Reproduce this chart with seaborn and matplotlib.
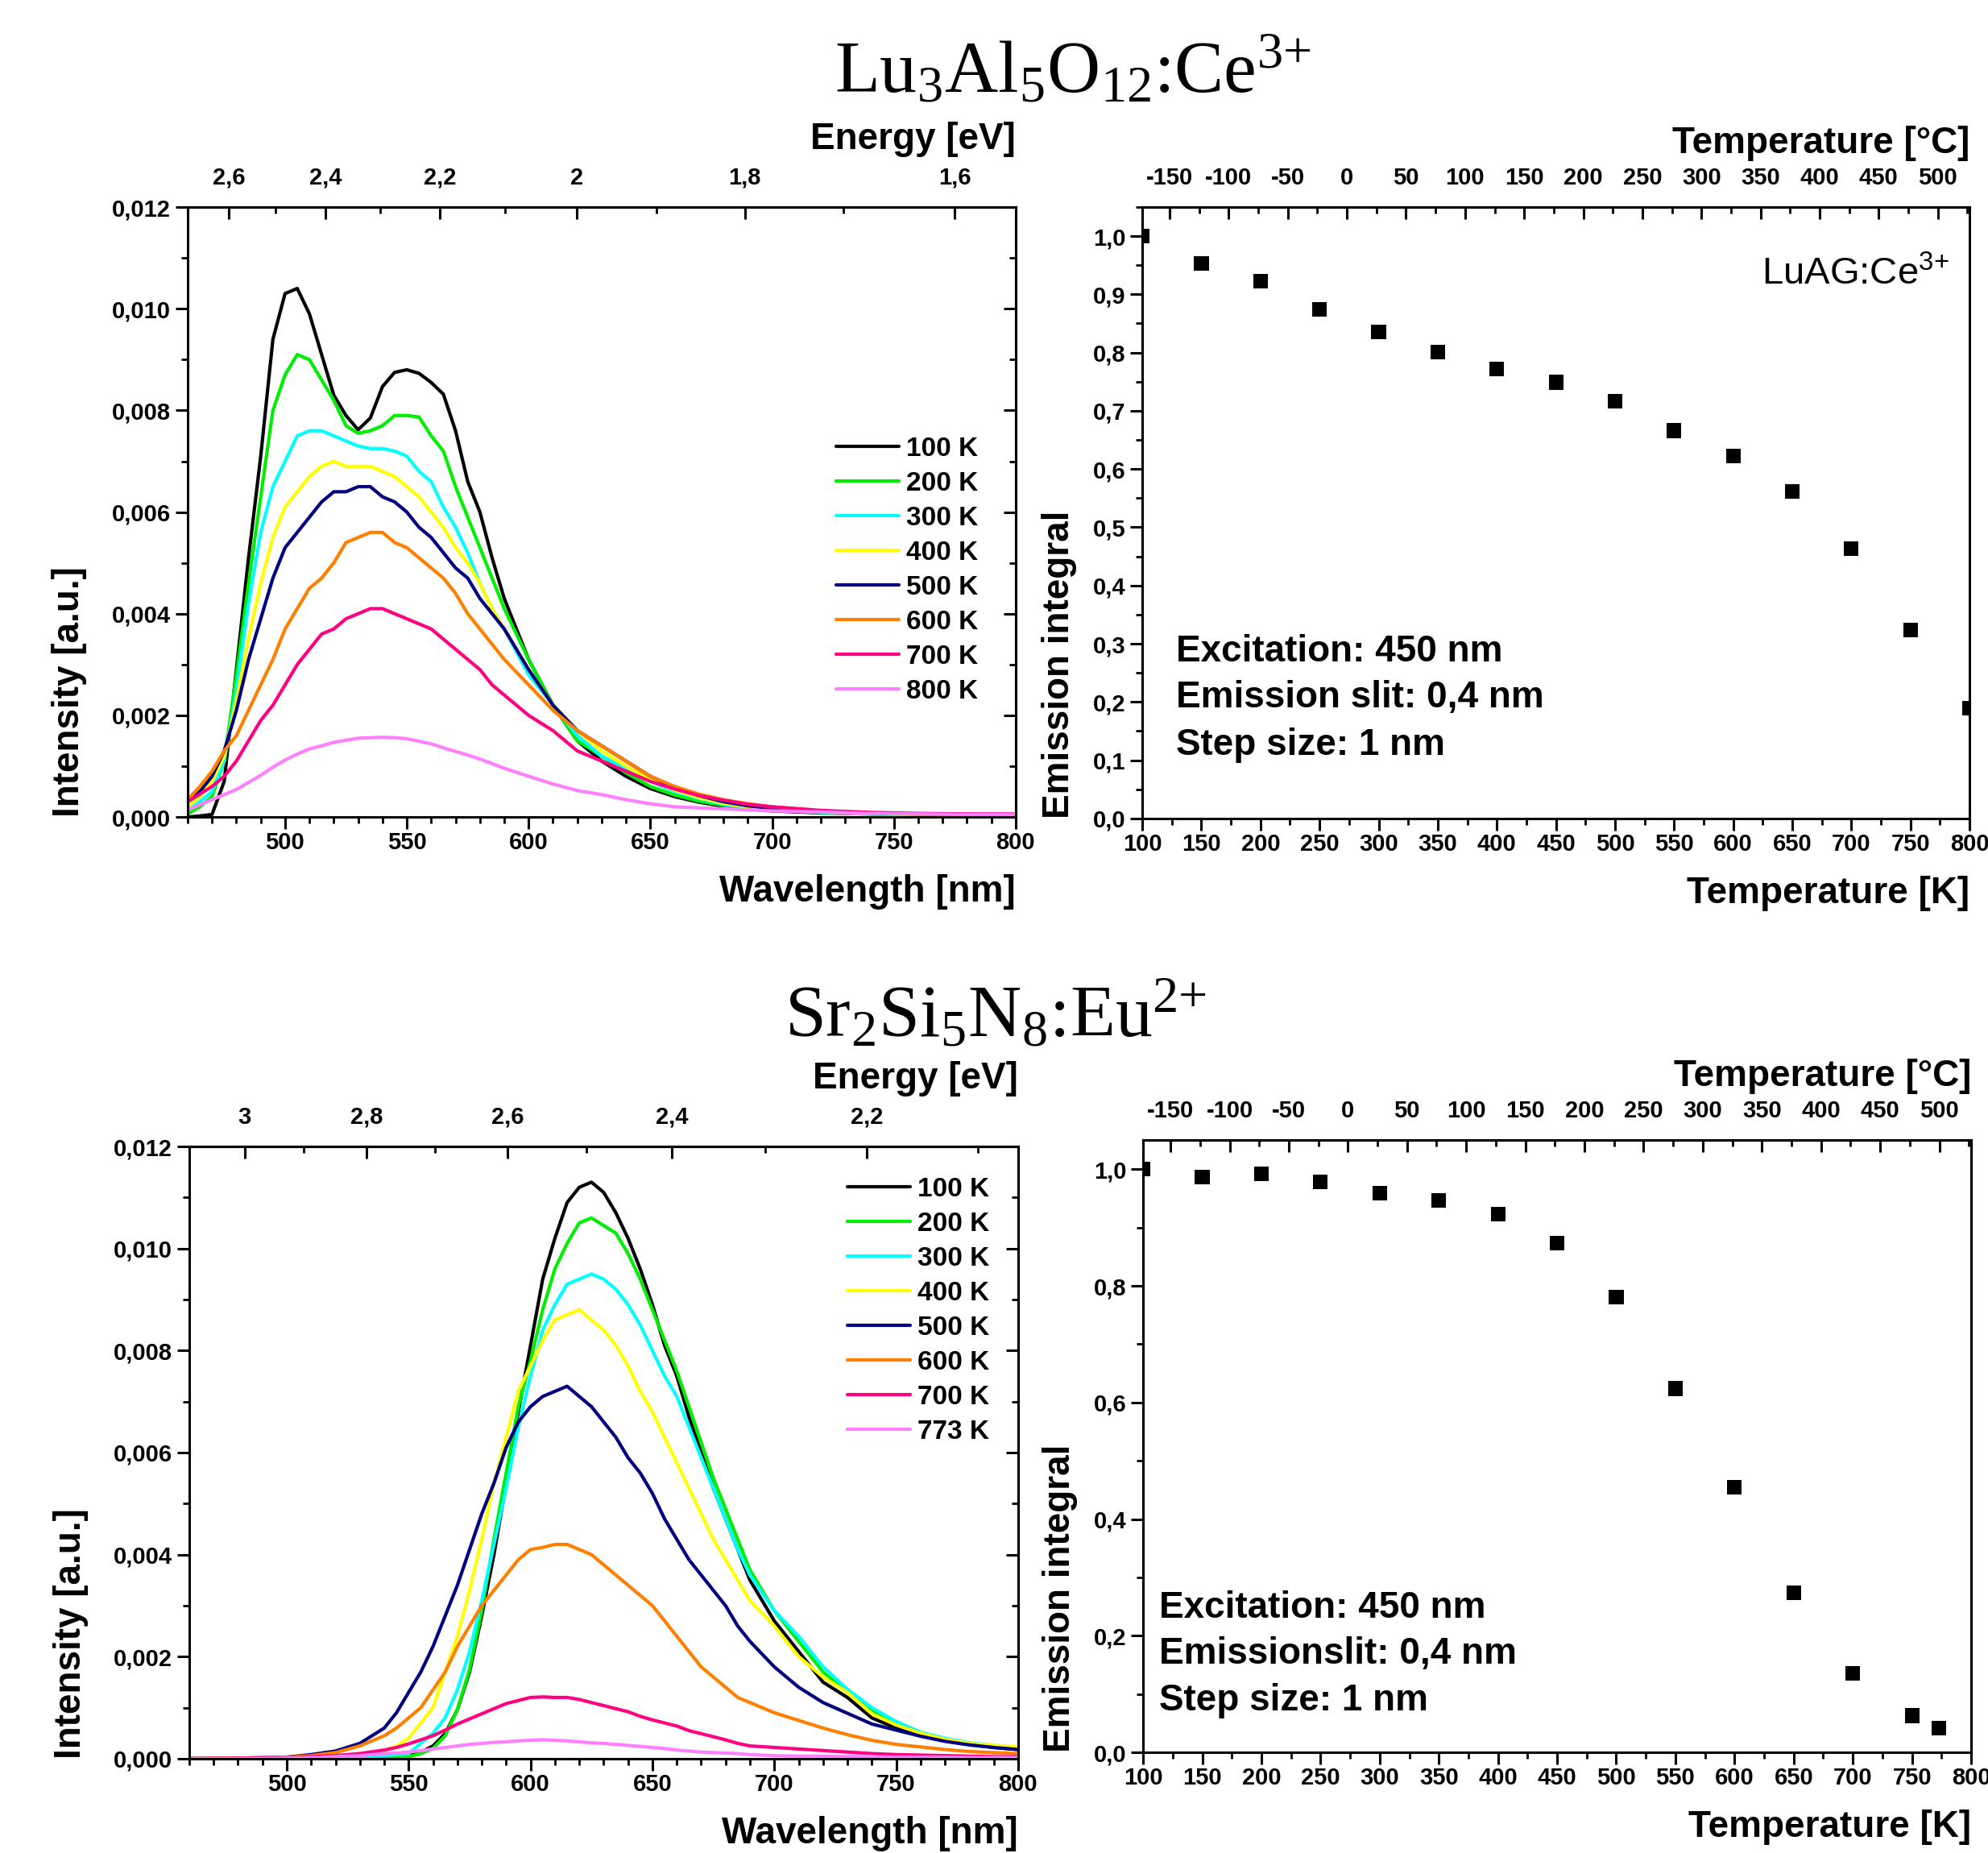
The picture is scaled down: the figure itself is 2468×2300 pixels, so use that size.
import pandas as pd
import seaborn as sns
import matplotlib.pyplot as plt
from matplotlib.ticker import MultipleLocator, FixedLocator, FuncFormatter

# ---------- Lu3Al5O12:Ce3+ emission spectra ----------
wl_luag = [460, 465, 470, 475, 480, 485, 490, 495, 500, 505,
           510, 515, 520, 525, 530, 535, 540, 545, 550, 555, 560, 565, 570, 575, 580, 585, 590,
           600, 610, 620, 630, 640, 650, 660, 670, 680, 690, 700,
           720, 740, 760, 780, 800]
luag_100 = [0.0, 0.00002, 0.00005, 0.0007, 0.0029, 0.0051, 0.0071, 0.0094, 0.0103, 0.0104,
            0.0099, 0.0091, 0.0083, 0.0079, 0.00762, 0.00785, 0.00847, 0.00875, 0.0088, 0.00873, 0.00855, 0.00832, 0.0076, 0.0066, 0.006, 0.0051, 0.0043,
            0.0031, 0.0022, 0.0015, 0.0011, 0.0008, 0.00056, 0.0004, 0.00029, 0.00021, 0.00016, 0.00012,
            0.00008, 0.00006, 0.00004, 0.00003, 0.00003]
luag_200 = [0.00006, 0.0002, 0.0004, 0.0011, 0.0028, 0.0046, 0.0063, 0.008, 0.0087, 0.0091,
            0.009, 0.0086, 0.0082, 0.0077, 0.00755, 0.0076, 0.0077, 0.0079, 0.0079, 0.00787, 0.0075, 0.0072, 0.0065, 0.0059, 0.0053, 0.0047, 0.0041,
            0.0031, 0.0022, 0.0015, 0.0012, 0.00087, 0.0006, 0.00043, 0.00031, 0.00023, 0.00017, 0.00013,
            0.00009, 0.00006, 0.00005, 0.00004, 0.00003]
luag_300 = [0.00014, 0.0003, 0.0005, 0.0011, 0.0025, 0.0042, 0.0056, 0.0065, 0.007, 0.0075,
            0.0076, 0.0076, 0.0075, 0.0074, 0.0073, 0.00725, 0.00725, 0.0072, 0.0071, 0.0068, 0.0066, 0.0061, 0.0057, 0.0052, 0.0046, 0.0041, 0.0037,
            0.0028, 0.0022, 0.0016, 0.0012, 0.00095, 0.0007, 0.0005, 0.00036, 0.00025, 0.00019, 0.00014,
            0.00009, 0.00006, 0.00005, 0.00004, 0.00004]
luag_400 = [0.0002, 0.0004, 0.0007, 0.0012, 0.0023, 0.0035, 0.0046, 0.0055, 0.0061, 0.0064,
            0.0067, 0.0069, 0.007, 0.0069, 0.0069, 0.0069, 0.0068, 0.0067, 0.0065, 0.0063, 0.006, 0.0057, 0.0053, 0.005, 0.0046, 0.0041, 0.0037,
            0.0029, 0.0022, 0.0017, 0.0013, 0.001, 0.00073, 0.00053, 0.00038, 0.00027, 0.0002, 0.00015,
            0.0001, 0.00007, 0.00005, 0.00004, 0.00004]
luag_500 = [0.0003, 0.0005, 0.0008, 0.0013, 0.0021, 0.0031, 0.0039, 0.0047, 0.0053, 0.0056,
            0.0059, 0.0062, 0.0064, 0.0064, 0.0065, 0.0065, 0.0063, 0.0062, 0.006, 0.0057, 0.0055, 0.0052, 0.0049, 0.0047, 0.0043, 0.004, 0.0037,
            0.0029, 0.0022, 0.0017, 0.0014, 0.0011, 0.0008, 0.00058, 0.00042, 0.0003, 0.00022, 0.00017,
            0.00011, 0.00008, 0.00006, 0.00005, 0.00004]
luag_600 = [0.00034, 0.0006, 0.0009, 0.0013, 0.0016, 0.0021, 0.0026, 0.0031, 0.0037, 0.0041,
            0.0045, 0.0047, 0.005, 0.0054, 0.0055, 0.0056, 0.0056, 0.0054, 0.0053, 0.0051, 0.0049, 0.0047, 0.0044, 0.004, 0.0037, 0.0034, 0.0031,
            0.0026, 0.0021, 0.0017, 0.0014, 0.0011, 0.0008, 0.0006, 0.00045, 0.00034, 0.00026, 0.0002,
            0.00012, 0.00008, 0.00006, 0.00005, 0.00004]
luag_700 = [0.0003, 0.00045, 0.0006, 0.0008, 0.0011, 0.0015, 0.0019, 0.0022, 0.0026, 0.003,
            0.0033, 0.0036, 0.0037, 0.0039, 0.004, 0.0041, 0.0041, 0.004, 0.0039, 0.0038, 0.0037, 0.0035, 0.0033, 0.0031, 0.0029, 0.0026, 0.0024,
            0.002, 0.0017, 0.0013, 0.0011, 0.0009, 0.0007, 0.00055, 0.00042, 0.00033, 0.00025, 0.0002,
            0.00013, 0.00009, 0.00007, 0.00006, 0.00006]
luag_800 = [0.00014, 0.00024, 0.00034, 0.00044, 0.00054, 0.00068, 0.00082, 0.00098, 0.00112, 0.00124,
            0.00134, 0.0014, 0.00147, 0.00151, 0.00155, 0.00156, 0.00157, 0.00156, 0.00154, 0.00149, 0.00144, 0.00136, 0.00129, 0.00122, 0.00114, 0.00105, 0.00096,
            0.0008, 0.00065, 0.00052, 0.00044, 0.00034, 0.00026, 0.0002, 0.00018, 0.00016, 0.00014, 0.00012,
            0.0001, 0.00007, 0.00006, 0.00005, 0.00005]
labels_luag = ["100 K", "200 K", "300 K", "400 K", "500 K", "600 K", "700 K", "800 K"]

# ---------- Sr2Si5N8:Eu2+ emission spectra ----------
wl_sr = [460, 480, 500, 510, 520, 530,
         540, 545, 550, 555, 560, 565, 570, 575, 580, 585,
         590, 595, 600, 605, 610, 615, 620, 625, 630, 635,
         640, 645, 650, 655, 660, 665, 670, 675, 680, 685,
         690,
         700, 710, 720, 730, 740, 750, 760, 770, 780, 790, 800]
sr_100 = [0, 0, 0, 0, 0, 0,
          0.00001, 0.00003, 0.00006, 0.00013, 0.00025, 0.00049, 0.00096, 0.0017, 0.0028, 0.004,
          0.0054, 0.0068, 0.0081, 0.0094, 0.0102, 0.0109, 0.0112, 0.0113, 0.0111, 0.0107,
          0.0102, 0.0096, 0.0089, 0.0081, 0.0075, 0.0067, 0.006, 0.0053, 0.0047, 0.0041,
          0.0035,
          0.0027, 0.0021, 0.0015, 0.0012, 0.0008, 0.0006, 0.00045, 0.00035, 0.00028, 0.00022, 0.00018]
sr_200 = [0, 0, 0, 0, 0, 0,
          0.00001, 0.00002, 0.00004, 0.0001, 0.0002, 0.00045, 0.00096, 0.00175, 0.0029, 0.0043,
          0.0056, 0.0069, 0.0078, 0.0088, 0.0096, 0.0101, 0.0105, 0.0106, 0.01045, 0.0103,
          0.0099, 0.0094, 0.0088, 0.0082, 0.0076, 0.0069, 0.0062, 0.0055, 0.0049, 0.0043,
          0.0037,
          0.0029, 0.0023, 0.0017, 0.0013, 0.00095, 0.0007, 0.0005, 0.00038, 0.0003, 0.00025, 0.0002]
sr_300 = [0, 0, 0, 0.00001, 0.00002, 0.00004,
          0.00006, 0.00008, 0.0001, 0.0003, 0.0005, 0.0008, 0.00135, 0.0021, 0.0031, 0.0042,
          0.0053, 0.0065, 0.0075, 0.0084, 0.0089, 0.0093, 0.0094, 0.0095, 0.0094, 0.0092,
          0.0089, 0.0085, 0.008, 0.0075, 0.0071, 0.0065, 0.0059, 0.0053, 0.0047, 0.0041,
          0.0036,
          0.0029, 0.0024, 0.0018, 0.00136, 0.001, 0.00073, 0.00052, 0.0004, 0.00031, 0.00026, 0.00022]
sr_400 = [0, 0, 0.00001, 0.00002, 0.00004, 0.00008,
          0.00015, 0.00025, 0.0004, 0.0007, 0.001, 0.0017, 0.0024, 0.0033, 0.0043, 0.0054,
          0.0063, 0.0072, 0.0077, 0.0082, 0.0086, 0.0087, 0.0088, 0.0086, 0.0084, 0.0081,
          0.0077, 0.0072, 0.0068, 0.0063, 0.0058, 0.0053, 0.0048, 0.0043, 0.0039, 0.0035,
          0.0031,
          0.0026, 0.002, 0.0016, 0.0013, 0.00088, 0.00066, 0.0005, 0.00038, 0.0003, 0.00026, 0.00023]
sr_500 = [0, 0.00001, 0.00003, 0.00008, 0.00015, 0.0003,
          0.0006, 0.0009, 0.0013, 0.0017, 0.0022, 0.0028, 0.0034, 0.0041, 0.0048, 0.0054,
          0.0061, 0.0066, 0.0069, 0.0071, 0.0072, 0.0073, 0.0071, 0.0069, 0.0066, 0.0063,
          0.0059, 0.0056, 0.0052, 0.0047, 0.0043, 0.0039, 0.0036, 0.0033, 0.003, 0.0026,
          0.0023,
          0.0018, 0.0014, 0.0011, 0.00089, 0.00068, 0.00056, 0.00044, 0.00034, 0.00027, 0.00022, 0.00018]
sr_600 = [0, 0.00001, 0.00003, 0.00006, 0.00012, 0.00025,
          0.00045, 0.0006, 0.0008, 0.001, 0.00135, 0.0017, 0.0022, 0.0026, 0.003, 0.0033,
          0.0036, 0.0039, 0.0041, 0.00414, 0.0042, 0.0042, 0.0041, 0.004, 0.0038, 0.0036,
          0.0034, 0.0032, 0.003, 0.0027, 0.0024, 0.0021, 0.0018, 0.0016, 0.0014, 0.0012,
          0.0011,
          0.0009, 0.00075, 0.0006, 0.00047, 0.00036, 0.00028, 0.00023, 0.00018, 0.00014, 0.00012, 0.0001]
sr_700 = [0, 0.00001, 0.00002, 0.00004, 0.00006, 0.0001,
          0.00017, 0.00022, 0.00029, 0.00037, 0.00045, 0.00056, 0.00068, 0.00078, 0.00088, 0.00098,
          0.00108, 0.00114, 0.0012, 0.00121, 0.0012, 0.0012, 0.00116, 0.0011, 0.00104, 0.00098,
          0.00092, 0.00083, 0.00076, 0.0007, 0.00064, 0.00055, 0.00049, 0.00043, 0.00037, 0.0003,
          0.00025,
          0.00022, 0.00019, 0.00016, 0.00013, 0.0001, 0.00008, 0.00007, 0.00006, 0.00005, 0.00004, 0.00004]
sr_773 = [0, 0, 0.00001, 0.00002, 0.00004, 0.00006,
          0.0001, 0.00011, 0.00013, 0.00016, 0.00019, 0.00022, 0.00025, 0.00028, 0.0003, 0.00032,
          0.00033, 0.00035, 0.00036, 0.00037, 0.00036, 0.00035, 0.00033, 0.00031, 0.0003, 0.00028,
          0.00026, 0.00024, 0.00022, 0.0002, 0.00017, 0.00015, 0.00013, 0.00012, 0.00011, 0.0001,
          0.00008,
          0.00006, 0.00005, 0.00005, 0.00004, 0.00004, 0.00003, 0.00003, 0.00003, 0.00002, 0.00002, 0.00002]
labels_sr = ["100 K", "200 K", "300 K", "400 K", "500 K", "600 K", "700 K", "773 K"]

# ---------- integrated emission vs temperature ----------
temp_luag = [100, 150, 200, 250, 300, 350, 400, 450, 500, 550, 600, 650, 700, 750, 800]
integral_luag = [1.0, 0.953, 0.923, 0.874, 0.836, 0.801, 0.772, 0.749, 0.717, 0.666,
                 0.623, 0.562, 0.463, 0.324, 0.19]
temp_sr = [100, 150, 200, 250, 300, 350, 400, 450, 500, 550, 600, 650, 700, 750, 773]
integral_sr = [1.0, 0.987, 0.992, 0.979, 0.959, 0.947, 0.923, 0.874, 0.781, 0.624,
               0.455, 0.274, 0.136, 0.063, 0.041]

celsius_ticks = [-150, -100, -50, 0, 50, 100, 150, 200, 250, 300, 350, 400, 450, 500]

colors = ["#000000", "#00ee00", "#00ffff", "#ffff00", "#000080", "#ff8000", "#ff0080", "#ff80ff"]

# energy axis conversions as they appear on the two top axes
HC = 1239.84
SR_K, SR_OFF = 2104.8, 218.9

sns.set_theme(style="ticks")
plt.rcParams["font.family"] = ["Liberation Sans", "DejaVu Sans"]
plt.rcParams["font.weight"] = "bold"
plt.rcParams["axes.labelweight"] = "bold"
plt.rcParams["axes.edgecolor"] = "black"
plt.rcParams["axes.linewidth"] = 2.2
plt.rcParams["text.color"] = "black"
plt.rcParams["axes.labelcolor"] = "black"
plt.rcParams["xtick.color"] = "black"
plt.rcParams["ytick.color"] = "black"
plt.rcParams["mathtext.default"] = "regular"

TICK = 21
LAB = 33


def comma(fmt):
    return FuncFormatter(lambda v, p: fmt.format(v).replace(".", ","))


def ticks(a, axis, direction, pad):
    a.tick_params(axis=axis, which="major", direction=direction, length=11, width=2.2,
                  pad=pad, labelsize=TICK, color="black", labelcolor="black")
    a.tick_params(axis=axis, which="minor", direction=direction, length=6, width=2.0,
                  color="black")


def long_frame(wl, series, labels):
    parts = [pd.DataFrame({"wl": wl, "I": s, "T": lab}) for s, lab in zip(series, labels)]
    return pd.concat(parts, ignore_index=True)


def spectra_panel(ax, df, labels, fwd, inv, e_major, e_minor, leg_anchor):
    sns.lineplot(data=df, x="wl", y="I", hue="T", hue_order=labels, palette=colors,
                 estimator=None, sort=False, linewidth=3.0, legend=False, ax=ax)
    ax.set_xlim(460, 800)
    ax.set_ylim(0, 0.012)
    ax.xaxis.set_major_locator(MultipleLocator(50))
    ax.xaxis.set_minor_locator(MultipleLocator(10))
    ax.yaxis.set_major_locator(MultipleLocator(0.002))
    ax.yaxis.set_minor_locator(MultipleLocator(0.001))
    ax.yaxis.set_major_formatter(comma("{:.3f}"))
    ax.xaxis.set_major_formatter(FuncFormatter(lambda v, p: f"{v:g}"))
    ticks(ax, "x", "out", 2)
    ticks(ax, "y", "out", 4)
    ax.set_xlabel("Wavelength [nm]", loc="right", fontsize=LAB, labelpad=18)
    ax.set_ylabel("Intensity [a.u.]", loc="bottom", fontsize=LAB, labelpad=22)

    top = ax.secondary_xaxis("top", functions=(fwd, inv))
    top.xaxis.set_major_locator(FixedLocator(e_major))
    top.xaxis.set_minor_locator(FixedLocator(e_minor))
    top.xaxis.set_major_formatter(FuncFormatter(lambda v, p: f"{v:g}".replace(".", ",")))
    ticks(top, "x", "in", 16)
    top.set_xlabel("Energy [eV]", loc="right", fontsize=LAB, labelpad=16)

    right = ax.secondary_yaxis("right")
    right.yaxis.set_major_locator(MultipleLocator(0.002))
    right.yaxis.set_minor_locator(MultipleLocator(0.001))
    ticks(right, "y", "in", 4)
    right.tick_params(labelright=False)

    ax.legend(ax.get_lines()[:len(labels)], labels, loc="upper left", bbox_to_anchor=leg_anchor,
              frameon=False, fontsize=24, handlelength=2.35, handletextpad=0.25,
              labelspacing=0.36, borderpad=0, borderaxespad=0)


def quench_panel(ax, t, v, ymajor, yminor, notes, note_x, note_y):
    sns.scatterplot(x=t, y=v, marker="s", s=170, color="black", edgecolor="none", ax=ax)
    ax.set_xlim(100, 800)
    ax.set_ylim(0, 1.05)
    ax.xaxis.set_major_locator(MultipleLocator(50))
    ax.xaxis.set_minor_locator(MultipleLocator(25))
    ax.yaxis.set_major_locator(MultipleLocator(ymajor))
    ax.yaxis.set_minor_locator(MultipleLocator(yminor))
    ax.yaxis.set_major_formatter(comma("{:.1f}"))
    ax.xaxis.set_major_formatter(FuncFormatter(lambda v, p: f"{v:g}"))
    ticks(ax, "x", "out", 2)
    ticks(ax, "y", "out", 4)
    ax.set_xlabel("Temperature [K]", loc="right", fontsize=LAB, labelpad=18)
    ax.set_ylabel("Emission integral", loc="bottom", fontsize=LAB, labelpad=14)

    top = ax.secondary_xaxis("top", functions=(lambda k: k - 273.15, lambda c: c + 273.15))
    top.xaxis.set_major_locator(FixedLocator(celsius_ticks))
    top.xaxis.set_minor_locator(MultipleLocator(25))
    top.xaxis.set_major_formatter(FuncFormatter(lambda v, p: f"{v:g}"))
    ticks(top, "x", "in", 16)
    top.set_xlabel("Temperature [°C]", loc="right", fontsize=LAB, labelpad=12)

    for line, y in zip(notes, note_y):
        ax.text(note_x, y, line, transform=ax.transAxes, fontsize=33, fontweight="bold",
                ha="left", va="center")


fig = plt.figure(figsize=(24.68, 23), dpi=100)
ax_tl = fig.add_axes([0.0944, 0.5591, 0.4165, 0.3291])
ax_tr = fig.add_axes([0.5746, 0.5583, 0.4161, 0.3300])
ax_bl = fig.add_axes([0.0952, 0.0509, 0.4169, 0.3304])
ax_br = fig.add_axes([0.5750, 0.0543, 0.4165, 0.3304])

df_luag = long_frame(wl_luag, [luag_100, luag_200, luag_300, luag_400,
                               luag_500, luag_600, luag_700, luag_800], labels_luag)
df_sr = long_frame(wl_sr, [sr_100, sr_200, sr_300, sr_400,
                           sr_500, sr_600, sr_700, sr_773], labels_sr)

spectra_panel(ax_tl, df_luag, labels_luag,
              lambda w: HC / w, lambda e: HC / e,
              [2.6, 2.4, 2.2, 2.0, 1.8, 1.6], [2.5, 2.3, 2.1, 1.9, 1.7],
              (0.783, 0.624))
spectra_panel(ax_bl, df_sr, labels_sr,
              lambda w: SR_K / (w + SR_OFF), lambda e: SR_K / e - SR_OFF,
              [3.0, 2.8, 2.6, 2.4, 2.2], [2.9, 2.7, 2.5, 2.3, 2.1],
              (0.794, 0.950))

quench_panel(ax_tr, temp_luag, integral_luag, 0.1, 0.05,
             ["Excitation: 450 nm", "Emission slit: 0,4 nm", "Step size: 1 nm"],
             0.041, [0.273, 0.197, 0.120])
ax_tr.text(0.975, 0.889, "LuAG:Ce$^{3{+}}$", transform=ax_tr.transAxes, fontsize=34,
           fontweight="normal", ha="right", va="center")
quench_panel(ax_br, temp_sr, integral_sr, 0.2, 0.1,
             ["Excitation: 450 nm", "Emissionslit: 0,4 nm", "Step size: 1 nm"],
             0.019, [0.236, 0.161, 0.084])

fig.text(0.5395, 0.9504, "Lu$_3$Al$_5$O$_{12}$:Ce$^{3{+}}$", ha="center", va="baseline",
         fontsize=66, fontweight="normal", family=["Liberation Serif", "DejaVu Serif"])
fig.text(0.5008, 0.4409, "Sr$_2$Si$_5$N$_8$:Eu$^{2{+}}$", ha="center", va="baseline",
         fontsize=66, fontweight="normal", family=["Liberation Serif", "DejaVu Serif"])

fig.savefig("out.png", dpi=100)
plt.close(fig)
